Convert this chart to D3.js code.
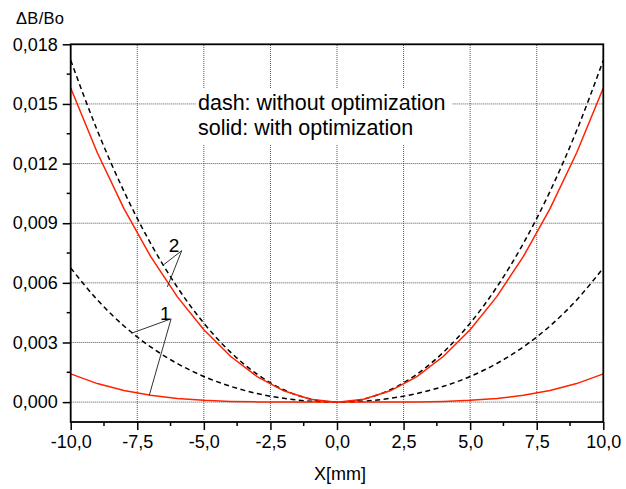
<!DOCTYPE html>
<html><head><meta charset="utf-8">
<script src="https://cdn.jsdelivr.net/npm/d3@7"></script>
<style>
html,body{margin:0;padding:0;background:#fff;}
svg{display:block;font-family:"Liberation Sans",Arial,sans-serif;}
</style></head>
<body>
<svg id="chart" width="626" height="489"></svg>
<script>
// ---- data ----
const xValues = [-10,-9,-8,-7,-6,-5,-4,-3,-2,-1,0,1,2,3,4,5,6,7,8,9,10];
// dashed = without optimization, solid = with optimization
const dash2 = [0.017200,0.013661,0.010603,0.007988,0.005786,0.003970,0.002515,0.001404,0.000620,0.000155,0,
               0.000155,0.000620,0.001404,0.002515,0.003970,0.005786,0.007988,0.010603,0.013661,0.017200];
const solid2 = [0.015800,0.012544,0.009732,0.007330,0.005308,0.003641,0.002306,0.001287,0.000569,0.000142,0,
                0.000142,0.000569,0.001287,0.002306,0.003641,0.005308,0.007330,0.009732,0.012544,0.015800];
const dash1 = [0.006750,0.005141,0.003832,0.002778,0.001942,0.001290,0.000795,0.000434,0.000189,0.0000465,0,
               0.0000465,0.000189,0.000434,0.000795,0.001290,0.001942,0.002778,0.003832,0.005141,0.006750];
const solid1 = [0.001420,0.000932,0.000582,0.000341,0.000184,0.0000888,0.0000364,0.0000115,0.0000023,0.00000014,0,
                0.00000014,0.0000023,0.0000115,0.0000364,0.0000888,0.000184,0.000341,0.000582,0.000932,0.001420];
const xTicks = [-10,-7.5,-5,-2.5,0,2.5,5,7.5,10];
const xMinorTicks = [-8.75,-6.25,-3.75,-1.25,1.25,3.75,6.25,8.75];
const yTicks = [0,0.003,0.006,0.009,0.012,0.015,0.018];
const yMinorTicks = [0.0015,0.0045,0.0075,0.0105,0.0135,0.0165];
const yTitle = "ΔB/Bo";
const xTitle = "X[mm]";
const noteLines = ["dash: without optimization","solid: with optimization"];
// annotation leaders in data units: label, label position, apex, endpoints
const leaders = [
  {label:"2", lx:-6.12, ly:0.00753, apex:[-5.83,0.00762], ends:[[-6.52,0.0069],[-6.37,0.0058]]},
  {label:"1", lx:-6.45, ly:0.00414, apex:[-6.23,0.00419], ends:[[-7.71,0.00347],[-7.05,0.00034]]}
];

// ---- layout ----
const L=70.7, R=603.3, T=44.3, B=422;
const svg=d3.select("#chart");
const x=d3.scaleLinear().domain([-10,10]).range([L,R]);
const y=d3.scaleLinear().domain([-0.001,0.018]).range([B,T]);
const loc=d3.formatLocale({decimal:",",thousands:".",grouping:[3],currency:["",""],minus:"-"});
const fx=loc.format(".1f"), fy=loc.format(".3f");

// grid
const g=svg.append("g");
g.selectAll(".vg").data(xTicks.filter(d=>d>-10&&d<10)).join("line")
  .attr("x1",d=>x(d)).attr("x2",d=>x(d)).attr("y1",B).attr("y2",T)
  .attr("stroke","#555").attr("stroke-width",1).attr("stroke-dasharray","1,1");
g.selectAll(".hg").data(yTicks.filter(d=>d<0.018)).join("line")
  .attr("y1",d=>y(d)).attr("y2",d=>y(d)).attr("x1",L).attr("x2",R)
  .attr("stroke","#555").attr("stroke-width",1).attr("stroke-dasharray","1,1");

// note box
svg.append("rect").attr("x",196).attr("y",88).attr("width",256).attr("height",56).attr("fill","#fff");
svg.append("g").selectAll("text").data(noteLines).join("text")
  .attr("x",198).attr("y",(d,i)=>110+i*24.5).attr("font-size","21.5px").attr("fill","#000").text(d=>d);

// curves
const pts=arr=>arr.map((v,i)=>[xValues[i],v]);
const line=d3.line().x(d=>x(d[0])).y(d=>y(d[1]));
const smooth=d3.line().x(d=>x(d[0])).y(d=>y(d[1])).curve(d3.curveMonotoneX);
[dash1,dash2].forEach(s=>svg.append("path").attr("d",smooth(pts(s))).attr("fill","none")
  .attr("stroke","#000").attr("stroke-width",1.5).attr("stroke-dasharray","5,3.5"));
[solid1,solid2].forEach(s=>svg.append("path").attr("d",line(pts(s))).attr("fill","none")
  .attr("stroke","#ff2200").attr("stroke-width",1.5));

// leaders
leaders.forEach(l=>{
  l.ends.forEach(e=>svg.append("line").attr("x1",x(l.apex[0])).attr("y1",y(l.apex[1]))
    .attr("x2",x(e[0])).attr("y2",y(e[1])).attr("stroke","#333").attr("stroke-width",1));
  svg.append("text").attr("x",x(l.lx)).attr("y",y(l.ly)).attr("text-anchor","middle")
    .attr("font-size","19px").text(l.label);
});

// axes
const xAxis=d3.axisBottom(x).tickValues(xTicks).tickFormat(fx).tickSizeInner(8).tickSizeOuter(0).tickPadding(5);
const yAxis=d3.axisLeft(y).tickValues(yTicks).tickFormat(fy).tickSizeInner(8).tickSizeOuter(0).tickPadding(5);
const gx=svg.append("g").attr("transform",`translate(0,${B})`).call(xAxis);
const gy=svg.append("g").attr("transform",`translate(${L},0)`).call(yAxis);
[gx,gy].forEach(a=>{a.select(".domain").remove();
  a.selectAll(".tick line").attr("stroke","#000").attr("stroke-width",1.5);
  a.selectAll("text").attr("font-size","18px").attr("font-family","Liberation Sans, Arial, sans-serif").attr("fill","#000");});
gx.selectAll("text").attr("dy","0.71em");
gy.selectAll("text").attr("dy","0.32em");
svg.append("g").selectAll("line").data(xMinorTicks).join("line")
  .attr("x1",d=>x(d)).attr("x2",d=>x(d)).attr("y1",B).attr("y2",B+4).attr("stroke","#000").attr("stroke-width",1.5);
svg.append("g").selectAll("line").data(yMinorTicks).join("line")
  .attr("y1",d=>y(d)).attr("y2",d=>y(d)).attr("x1",L-4).attr("x2",L).attr("stroke","#000").attr("stroke-width",1.5);

// frame
svg.append("rect").attr("x",L).attr("y",T).attr("width",R-L).attr("height",B-T)
  .attr("fill","none").attr("stroke","#000").attr("stroke-width",1.8);

// titles
svg.append("text").attr("x",16).attr("y",24).attr("font-size","16.5px").attr("letter-spacing","0.3px").text(yTitle);
svg.append("text").attr("x",(L+R)/2+3).attr("y",480).attr("text-anchor","middle").attr("font-size","18px").text(xTitle);
</script>
</body></html>
